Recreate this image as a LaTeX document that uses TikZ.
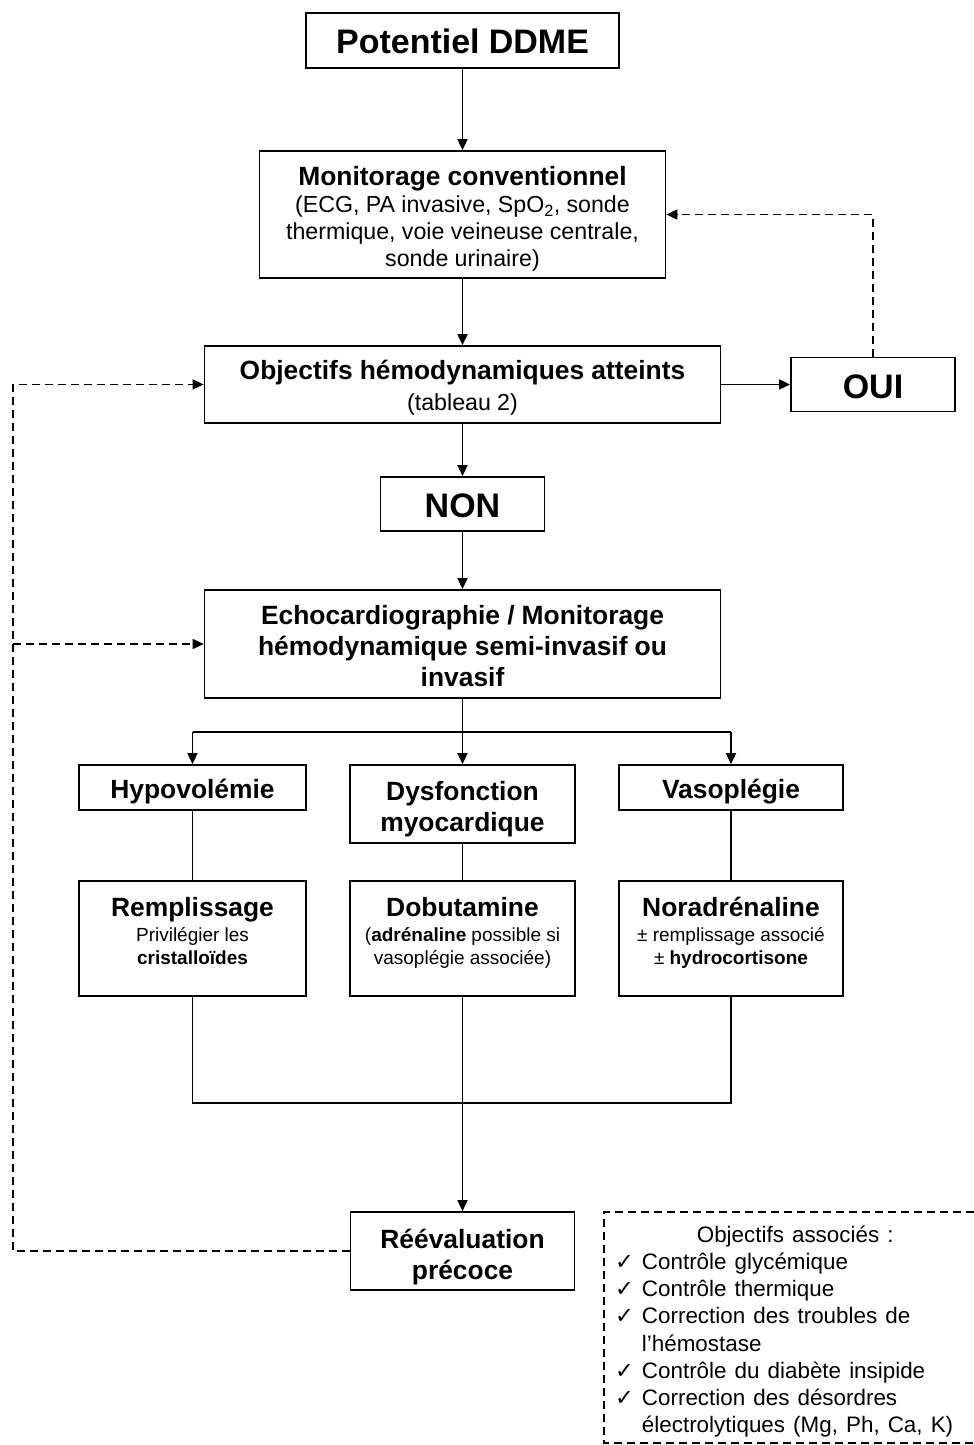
\documentclass[tikz,border=0pt]{standalone}
\usepackage{fontspec}
\setmainfont{Liberation Sans}[WordSpace=1.3]
\newfontfamily\symfont{DejaVu Sans}
\usetikzlibrary{arrows.meta}
\newcommand\wsp{\spaceskip=0.27em\relax\xspaceskip=0.27em\relax}
\newcommand\setfs[2]{\fontsize{#1}{#2}\selectfont\wsp}
\begin{document}
\begin{tikzpicture}[x=1pt,y=-1pt,
  box/.style={draw, line width=1.7pt, inner sep=0pt},
  txt/.style={inner sep=0pt, align=center, anchor=base, text width=500pt},
  big/.style={font={\fontsize{34}{36}\selectfont\bfseries}},
  head/.style={font={\fontsize{26.4}{31}\selectfont\bfseries}},
  sub/.style={font={\fontsize{19}{23}\selectfont}},
  plain/.style={line width=1.7pt},
  tip/.style={-{Triangle[length=11pt,width=10pt]}},
  arr/.style={plain, tip},
  dsh/.style={line width=1.6pt, dash pattern=on 8pt off 5pt},
]
\useasboundingbox (0,0) rectangle (974,1445);

% boxes
\node[box, minimum width=313pt, minimum height=55pt] (pot) at (462.5,40.5) {};
\node[box, minimum width=406pt, minimum height=127pt] (mon) at (462.5,214.5) {};
\node[box, minimum width=516pt, minimum height=77pt] (obj) at (462.5,384.5) {};
\node[box, minimum width=164pt, minimum height=54pt] (oui) at (873,384.5) {};
\node[box, minimum width=164pt, minimum height=54pt] (non) at (462.5,504) {};
\node[box, minimum width=516pt, minimum height=108pt] (echo) at (462.5,644) {};
\node[box, minimum width=227pt, minimum height=45pt] (hypo) at (192.5,787.5) {};
\node[box, minimum width=225pt, minimum height=78pt] (dysf) at (462.5,804) {};
\node[box, minimum width=224pt, minimum height=45pt] (vaso) at (731,787.5) {};
\node[box, minimum width=227pt, minimum height=115pt] (remp) at (192.5,938.5) {};
\node[box, minimum width=225pt, minimum height=115pt] (dobu) at (462.5,938.5) {};
\node[box, minimum width=224pt, minimum height=115pt] (nora) at (731,938.5) {};
\node[box, minimum width=224pt, minimum height=78pt] (reev) at (462.5,1251) {};

% texts (anchored at the baseline of their first line)
\node[txt, big] (pott) at (462.5,54) {\wsp Potentiel DDME\par};
\node[txt, font={\fontsize{23.2}{27}\selectfont}] (mont) at (462.5,185.5)
  {\wsp{\setfs{26.4}{28}\bfseries Monitorage conventionnel\par}%
   (ECG, PA invasive, SpO\textsubscript{2}, sonde\\ thermique, voie veineuse centrale,\\ sonde urinaire)\par};
\node[txt, font={\fontsize{23.2}{31}\selectfont}] (objt) at (462.5,379.5)
  {\wsp{\setfs{26.4}{31}\bfseries Objectifs hémodynamiques atteints\par}%
   (tableau 2)\par};
\node[txt, big] (ouit) at (873,398.5) {OUI\par};
\node[txt, big] (nont) at (462.5,517.5) {NON\par};
\node[txt, head] (echot) at (462.5,624.5)
  {\wsp Echocardiographie / Monitorage\\ hémodynamique semi-invasif ou\\ invasif\par};
\node[txt, head] (hypot) at (192.5,798) {Hypovolémie\par};
\node[txt, head] (dysft) at (462.5,800) {Dysfonction\\ myocardique\par};
\node[txt, head] (vasot) at (731,798) {Vasoplégie\par};
\node[txt, sub] (rempt) at (192.5,916.5)
  {\wsp{\setfs{26.4}{26}\bfseries Remplissage\par}\vspace{2pt}%
   Privilégier les\\ \textbf{cristalloïdes}\par};
\node[txt, sub] (dobut) at (462.5,916.5)
  {\wsp{\setfs{26.4}{26}\bfseries Dobutamine\par}\vspace{2pt}%
   (\textbf{adrénaline} possible si\\ vasoplégie associée)\par};
\node[txt, sub] (norat) at (731,916.5)
  {\wsp{\setfs{26.4}{26}\bfseries Noradrénaline\par}\vspace{2pt}%
   ± remplissage associé\\ ± \textbf{hydrocortisone}\par};
\node[txt, head] (reevt) at (462.5,1248) {Réévaluation\\ précoce\par};

% main connectors
\draw[arr] (pot.south) -- (mon.north);
\draw[arr] (mon.south) -- (obj.north);
\draw[arr] (obj.east) -- (oui.west);
\draw[arr] (obj.south) -- (non.north);
\draw[arr] (non.south) -- (echo.north);

\coordinate (br) at (462.5,732);
\coordinate (bl) at (192.5,732);
\coordinate (brr) at (731,732);
\draw[plain] (echo.south) -- (br);
\draw[plain] (bl) -- (brr);
\draw[arr] (bl) -- (hypo.north);
\draw[arr] (br) -- (dysf.north);
\draw[arr] (brr) -- (vaso.north);

\draw[plain] (hypo.south) -- (remp.north);
\draw[plain] (dysf.south) -- (dobu.north);
\draw[plain] (vaso.south) -- (nora.north);

\coordinate (ml) at (192.5,1103);
\coordinate (mr) at (731,1103);
\draw[plain] (remp.south) -- (ml) -- (mr) -- (nora.south);
\draw[arr] (dobu.south) -- (reev.north);

% dashed feedback
\draw[dsh, tip] (oui.north) |- (mon.east);
\coordinate (lb) at (13,1251);
\coordinate (lt) at (13,384.5);
\coordinate (lm) at (13,644);
\draw[dsh, tip] (reev.west) -- (lb) -- (lt) -- (obj.west);
\draw[dsh, tip] (lm) -- (echo.west);

% associated objectives
\coordinate (atr) at (974,1212);
\coordinate (atl) at (604,1212);
\coordinate (abl) at (604,1443);
\coordinate (abr) at (974,1443);
\draw[dsh] (atr) -- (atl) -- (abl) -- (abr);
\node[anchor=north west, inner sep=0pt, font=\fontsize{22.4}{27.2}\selectfont] (assoc) at (615,1223)
  {\begin{tabular}{@{}l@{\hspace{8pt}}l@{}}
   \multicolumn{2}{@{}c@{}}{\hspace{22pt}Objectifs associés :}\\
   {\symfont\bfseries ✓} & Contrôle glycémique\\
   {\symfont\bfseries ✓} & Contrôle thermique\\
   {\symfont\bfseries ✓} & Correction des troubles de\\
                & l’hémostase\\
   {\symfont\bfseries ✓} & Contrôle du diabète insipide\\
   {\symfont\bfseries ✓} & Correction des désordres\\
                & électrolytiques (Mg, Ph, Ca, K)
   \end{tabular}};
\end{tikzpicture}
\end{document}
